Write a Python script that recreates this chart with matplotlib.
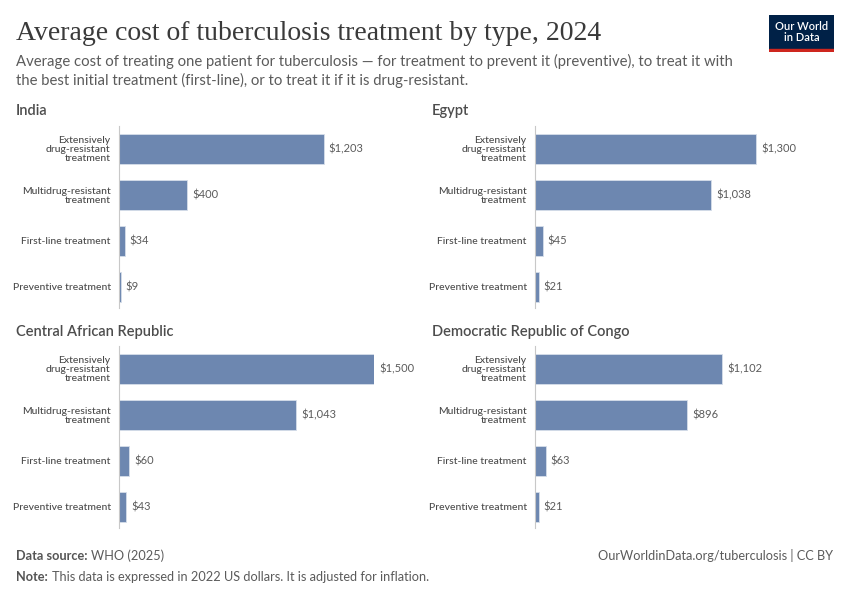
import matplotlib.pyplot as plt
import numpy as np

# data
categories = ["Extensively\ndrug-resistant\ntreatment", "Multidrug-resistant\ntreatment",
              "First-line treatment", "Preventive treatment"]
countries = ["India", "Egypt", "Central African Republic", "Democratic Republic of Congo"]
india = [1203, 400, 34, 9]
egypt = [1300, 1038, 45, 21]
car = [1500, 1043, 60, 43]
drc = [1102, 896, 63, 21]
values = [india, egypt, car, drc]

bar_color = "#6d87b0"
text_gray = "#5b5b5b"
plt.rcParams['font.family'] = ['Lato', 'DejaVu Sans']

W, H = 850, 600
fig = plt.figure(figsize=(8.5, 6), dpi=100)
fig.patch.set_facecolor("white")

def px_axes(left, top, width, height):
    return fig.add_axes([left / W, 1 - (top + height) / H, width / W, height / H])

# panel positions in pixels (left, top)
panels = [(119, 126), (535, 126), (119, 346), (535, 346)]
title_pos = [(16, 111), (432, 111), (16, 332), (432, 332)]

for i, name in enumerate(countries):
    left, top = panels[i]
    ax = px_axes(left, top, 255, 182)
    y = np.arange(len(categories))
    vals = values[i]
    ax.barh(y, vals, height=0.65, color=bar_color, edgecolor="#d6deea", linewidth=0.6)
    ax.set_xlim(0, 1500)
    ax.set_ylim(3.46, -0.5)
    ax.set_yticks(y)
    ax.set_yticklabels(categories, fontsize=7.5, color="#4a4a4a", linespacing=1.0,
                       fontweight="medium")
    ax.tick_params(axis="y", length=0, pad=6)
    ax.set_xticks([])
    for s in ["top", "right", "bottom"]:
        ax.spines[s].set_visible(False)
    ax.spines["left"].set_color("#c8c8c8")
    ax.spines["left"].set_linewidth(0.8)
    for yy, v in zip(y, vals):
        ax.text(v + 30, yy, "${:,}".format(v), va="center", ha="left",
                fontsize=8, color=text_gray, clip_on=False)
    tx, ty = title_pos[i]
    fig.text(tx / W, 1 - ty / H, name, fontsize=10.5, fontweight="semibold",
             color="#4d4d4d", va="center", ha="left")

# header
fig.text(16 / W, 1 - 33 / H, "Average cost of tuberculosis treatment by type, 2024",
         family=["Liberation Serif", "DejaVu Serif"], fontsize=20, color="#3a3a3a",
         va="center", ha="left")
fig.text(16 / W, 1 - 61 / H,
         "Average cost of treating one patient for tuberculosis \u2014 for treatment to prevent it (preventive), to treat it with",
         fontsize=10.7, color=text_gray, va="center", ha="left")
fig.text(16 / W, 1 - 80 / H,
         "the best initial treatment (first-line), or to treat it if it is drug-resistant.",
         fontsize=10.7, color=text_gray, va="center", ha="left")

# logo
logo = fig.add_axes([769 / W, 1 - 52 / H, 65 / W, 37 / H])
logo.set_xlim(0, 1)
logo.set_ylim(0, 1)
logo.axis("off")
logo.add_patch(plt.Rectangle((0, 0.08), 1, 0.92, color="#002147"))
logo.add_patch(plt.Rectangle((0, 0), 1, 0.08, color="#ce261e"))
logo.text(0.5, 0.55, "Our World\nin Data", color="white", fontsize=8,
          ha="center", va="center", linespacing=1.0, fontweight="semibold")

# footer
fig.text(16 / W, 1 - 556 / H, "Data source:", fontsize=9.2, color="#555555",
         fontweight="bold", va="center", ha="left")
fig.text(91 / W, 1 - 556 / H, "WHO (2025)", fontsize=9.2, color=text_gray,
         va="center", ha="left")
fig.text(16 / W, 1 - 577 / H, "Note:", fontsize=9.2, color="#555555",
         fontweight="bold", va="center", ha="left")
fig.text(52 / W, 1 - 577 / H,
         "This data is expressed in 2022 US dollars. It is adjusted for inflation.",
         fontsize=9.2, color=text_gray, va="center", ha="left")
fig.text(833 / W, 1 - 556 / H, "OurWorldinData.org/tuberculosis | CC BY",
         fontsize=9.2, color=text_gray, va="center", ha="right")

fig.savefig("out.png", dpi=100)
